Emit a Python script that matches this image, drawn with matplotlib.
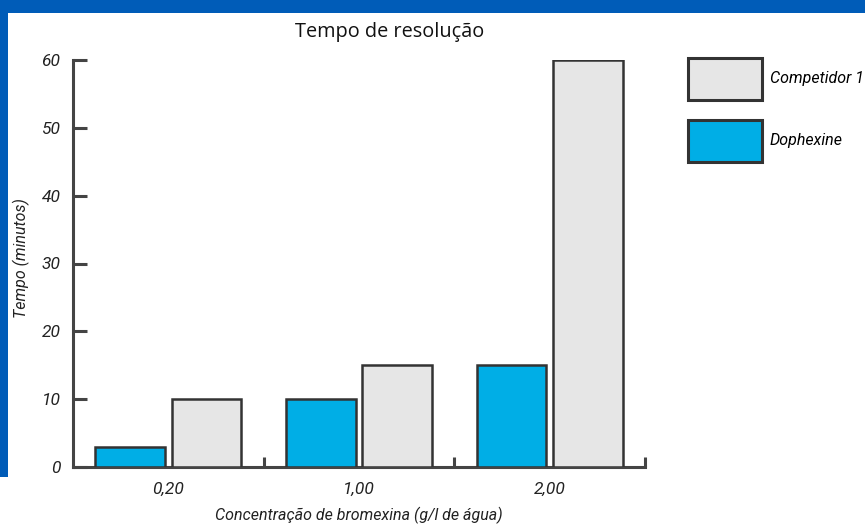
import matplotlib
matplotlib.use("Agg")
import matplotlib.pyplot as plt
from matplotlib.patches import Rectangle, Patch
import numpy as np

categories = ["0,20", "1,00", "2,00"]
series_names = ["Competidor 1", "Dophexine"]
competidor = [10, 15, 60]
dophexine = [3, 10, 15]
yticks = [0, 10, 20, 30, 40, 50, 60]

title = "Tempo de resolução"
xlabel = "Concentração de bromexina (g/l de água)"
ylabel = "Tempo (minutos)"

BLUE_FILL = "#00AEE6"
GRAY_FILL = "#E6E6E6"
EDGE = "#333333"
AXC = "#444444"
FRAME = "#005CB8"

W, H = 865, 525
fig = plt.figure(figsize=(W / 100, H / 100), dpi=100)
fig.patch.set_facecolor("white")

# blue frame
fig.patches.append(Rectangle((0, 1 - 13 / H), 1, 13 / H, transform=fig.transFigure,
                             facecolor=FRAME, edgecolor="none", zorder=0))
fig.patches.append(Rectangle((0, 1 - 477 / H), 8 / W, 477 / H, transform=fig.transFigure,
                             facecolor=FRAME, edgecolor="none", zorder=0))

fam = ["Roboto", "DejaVu Sans"]

ax = fig.add_axes([73 / W, 1 - 467 / H, (645 - 73) / W, (467 - 60) / H])
x = np.arange(len(categories))
bw = 0.365
off = 0.2
ax.bar(x - off, dophexine, width=bw, color=BLUE_FILL, edgecolor=EDGE, linewidth=1.8, zorder=3)
ax.bar(x + off, competidor, width=bw, color=GRAY_FILL, edgecolor=EDGE, linewidth=1.8, zorder=3)

ax.set_xlim(-0.5, 2.5)
ax.set_ylim(0, 60)
for s in ["top", "right"]:
    ax.spines[s].set_visible(False)
for s in ["left", "bottom"]:
    ax.spines[s].set_color(AXC)
    ax.spines[s].set_linewidth(2.2)

ax.set_yticks(yticks)
ax.set_yticklabels([str(v) for v in yticks], fontsize=12.5, style="italic", family=fam, color="#222222")
ax.tick_params(axis="y", direction="in", length=10, width=2.2, color=AXC, pad=9)

ax.set_xticks(x)
ax.set_xticklabels(categories, fontsize=12.5, style="italic", family=fam, color="#222222")
ax.tick_params(axis="x", which="major", length=0, pad=11)
ax.set_xticks([0.5, 1.5, 2.5], minor=True)
ax.tick_params(axis="x", which="minor", direction="in", length=7, width=2.2, color=AXC)

ax.set_xlabel(xlabel, fontsize=11.5, style="italic", family=fam, color="#222222", labelpad=7)
fig.text(21 / W, 1 - 258 / H, ylabel, rotation=90, ha="center", va="center",
         fontsize=11.5, style="italic", family=fam, color="#222222")
fig.text(390 / W, 1 - 32 / H, title, ha="center", va="center", fontsize=14.3,
         family=["Open Sans", "DejaVu Sans"], color="#111111")

handles = [Patch(facecolor=GRAY_FILL, edgecolor=EDGE, linewidth=2.2),
           Patch(facecolor=BLUE_FILL, edgecolor=EDGE, linewidth=2.2)]
fs = 11.5
px = fs * 100 / 72
h_units = 42 / px
leg = fig.legend(handles, series_names, loc="upper left",
                 bbox_to_anchor=(688 / W, 1 - 58 / H), bbox_transform=fig.transFigure,
                 frameon=False, borderpad=0, borderaxespad=0,
                 handlelength=74 / px, handleheight=(h_units - 0.245) / 0.65,
                 labelspacing=20 / px, handletextpad=8 / px,
                 prop={"size": fs, "style": "italic", "family": fam})

fig.savefig("out.png", dpi=100, facecolor="white")
